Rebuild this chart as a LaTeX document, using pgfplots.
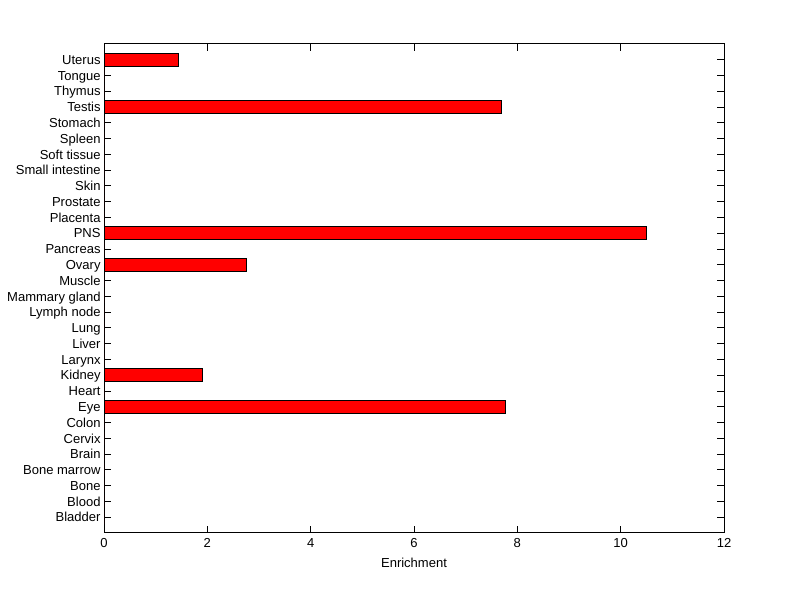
\documentclass[border=0pt]{standalone}
\usepackage{pgfplots}
\pgfplotsset{compat=1.18}
\usepackage{fontspec}
\setmainfont{Liberation Sans}

\begin{document}
\begin{tikzpicture}[x=1bp,y=1bp]
\path[use as bounding box] (0,0) rectangle (600,449.25);
\begin{axis}[
  at={(78bp,49.5bp)}, anchor=south west,
  scale only axis, width=465bp, height=366.75bp,
  xmin=0, xmax=12, ymin=0, ymax=31,
  xtick={0,2,...,12},
  ytick={1,...,30},
  yticklabels={Bladder,Blood,Bone,Bone marrow,Brain,Cervix,Colon,Eye,Heart,Kidney,Larynx,Liver,Lung,Lymph node,Mammary gland,Muscle,Ovary,Pancreas,PNS,Placenta,Prostate,Skin,Small intestine,Soft tissue,Spleen,Stomach,Testis,Thymus,Tongue,Uterus},
  xlabel={Enrichment},
  xbar, bar width=0.8,
  minor tick num=0,
  xtick align=inside, ytick align=inside, major tick length=5.25bp,
  tick style={black, line width=0.75bp},
  axis line style={line width=0.75bp},
  /pgf/number format/assume math mode=true,
  font=\fontsize{9.8}{11}\selectfont,
  ticklabel style={font=\fontsize{9.8}{11}\selectfont},
  yticklabel style={inner sep=1bp, xshift=-1.4bp, text height=7bp, text depth=0bp},
  xticklabel style={inner sep=1bp, yshift=-3bp},
  xlabel style={yshift=-3bp},
]
\addplot[fill=red, draw=black, line width=0.75bp] coordinates {
(0,1)(0,2)(0,3)(0,4)(0,5)(0,6)(0,7)(7.78,8)(0,9)(1.90,10)
(0,11)(0,12)(0,13)(0,14)(0,15)(0,16)(2.75,17)(0,18)(10.49,19)(0,20)
(0,21)(0,22)(0,23)(0,24)(0,25)(0,26)(7.70,27)(0,28)(0,29)(1.45,30)
};
\end{axis}
\end{tikzpicture}
\end{document}
